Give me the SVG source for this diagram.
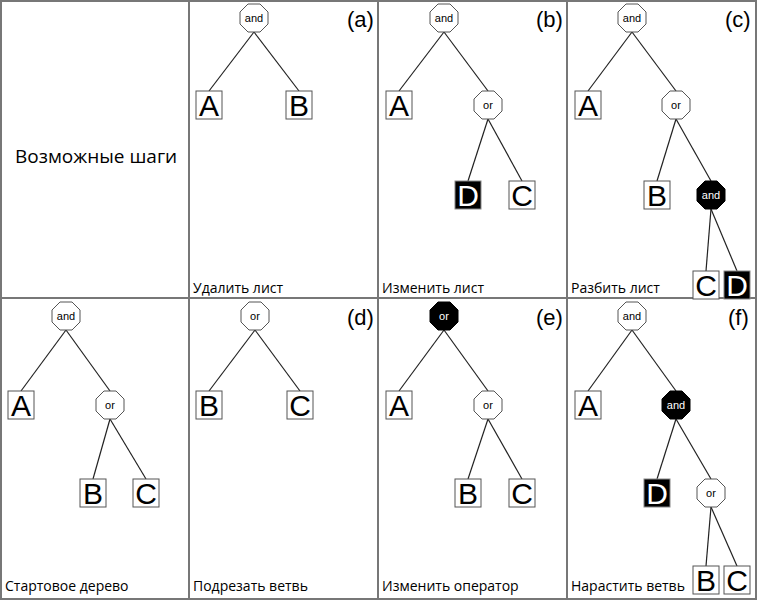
<svg xmlns="http://www.w3.org/2000/svg" xmlns:xlink="http://www.w3.org/1999/xlink" width="757" height="600" viewBox="0 0 757 600">
<style>
.grid{fill:none;stroke:#777;stroke-width:2}
.e{stroke:#222;stroke-width:1.2}
.oct{fill:#fff;stroke:#555;stroke-width:1}
.octb{fill:#000;stroke:#000;stroke-width:1}
.ot{font-family:"Liberation Sans",sans-serif;font-size:11px;text-anchor:middle}
.leaf{fill:#fff;stroke:#555;stroke-width:1}
.leafb{fill:#000;stroke:#888;stroke-width:1}
.lt{font-family:"Liberation Sans",sans-serif;font-size:30px;text-anchor:middle}
.lab{font-family:"Open Sans","Liberation Sans",sans-serif;font-size:14px}
.tag{font-family:"Liberation Sans",sans-serif;font-size:22px}
</style>
<defs>
<polygon id="o" points="-6,-14 6,-14 14,-6 14,6 6,14 -6,14 -14,6 -14,-6"/>
</defs>
<rect width="757" height="600" fill="#fff"/>
<g id="grid">
<rect class="grid" x="1" y="1" width="755" height="598"/>
<line class="grid" x1="189" y1="0" x2="189" y2="600"/>
<line class="grid" x1="378" y1="0" x2="378" y2="600"/>
<line class="grid" x1="567" y1="0" x2="567" y2="600"/>
<line class="grid" x1="0" y1="298" x2="757" y2="298"/>
</g>
<g id="connectors">
<line class="e" x1="254" y1="32" x2="209" y2="91"/><line class="e" x1="254" y1="32" x2="299" y2="91"/>
<line class="e" x1="444" y1="32" x2="399" y2="91"/><line class="e" x1="444" y1="32" x2="488" y2="91"/>
<line class="e" x1="488" y1="119" x2="468" y2="181"/><line class="e" x1="488" y1="119" x2="522" y2="181"/>
<line class="e" x1="632" y1="32" x2="588" y2="91"/><line class="e" x1="632" y1="32" x2="676" y2="91"/>
<line class="e" x1="676" y1="119" x2="657" y2="181"/><line class="e" x1="676" y1="119" x2="711" y2="181"/>
<line class="e" x1="711" y1="209" x2="706" y2="271"/><line class="e" x1="711" y1="209" x2="737" y2="271"/>
<line class="e" x1="66" y1="330" x2="21" y2="391"/><line class="e" x1="66" y1="330" x2="110" y2="391"/>
<line class="e" x1="110" y1="419" x2="93" y2="479"/><line class="e" x1="110" y1="419" x2="146" y2="479"/>
<line class="e" x1="255" y1="330" x2="209" y2="391"/><line class="e" x1="255" y1="330" x2="300" y2="391"/>
<line class="e" x1="444" y1="330" x2="399" y2="391"/><line class="e" x1="444" y1="330" x2="488" y2="391"/>
<line class="e" x1="488" y1="419" x2="468" y2="479"/><line class="e" x1="488" y1="419" x2="522" y2="479"/>
<line class="e" x1="632" y1="330" x2="588" y2="391"/><line class="e" x1="632" y1="330" x2="676" y2="391"/>
<line class="e" x1="676" y1="419" x2="657" y2="479"/><line class="e" x1="676" y1="419" x2="711" y2="479"/>
<line class="e" x1="711" y1="507" x2="706" y2="566"/><line class="e" x1="711" y1="507" x2="737" y2="566"/>
</g>
<text x="15" y="163" font-family="Open Sans, Liberation Sans, sans-serif" font-size="19">Возможные шаги</text>
<g id="labels">
<text class="tag" x="347" y="27">(a)</text><text class="tag" x="536" y="27">(b)</text><text class="tag" x="725" y="27">(c)</text>
<text class="tag" x="347" y="325">(d)</text><text class="tag" x="536" y="325">(e)</text><text class="tag" x="728" y="325">(f)</text>
<text class="lab" x="193" y="293">Удалить лист</text>
<text class="lab" x="382" y="293">Изменить лист</text>
<text class="lab" x="571" y="293">Разбить лист</text>
<text class="lab" x="5" y="591">Стартовое дерево</text>
<text class="lab" x="193" y="591">Подрезать ветвь</text>
<text class="lab" x="382" y="591">Изменить оператор</text>
<text class="lab" x="571" y="591">Нарастить ветвь</text>
</g>
<g id="a-root"><use href="#o" class="oct" x="254" y="18"/><text class="ot" x="254" y="22">and</text></g>
<g id="a-A"><rect class="leaf" x="196" y="91" width="26" height="28"/><text class="lt" x="209" y="116">A</text></g>
<g id="a-B"><rect class="leaf" x="286" y="91" width="26" height="28"/><text class="lt" x="299" y="116">B</text></g>
<g id="b-root"><use href="#o" class="oct" x="444" y="18"/><text class="ot" x="444" y="22">and</text></g>
<g id="b-A"><rect class="leaf" x="386" y="91" width="26" height="28"/><text class="lt" x="399" y="116">A</text></g>
<g id="b-or"><use href="#o" class="oct" x="488" y="105"/><text class="ot" x="488" y="109">or</text></g>
<g id="b-D"><rect class="leafb" x="455" y="181" width="26" height="28"/><text class="lt" x="468" y="206" fill="#fff">D</text></g>
<g id="b-C"><rect class="leaf" x="509" y="181" width="26" height="28"/><text class="lt" x="522" y="206">C</text></g>
<g id="c-root"><use href="#o" class="oct" x="632" y="18"/><text class="ot" x="632" y="22">and</text></g>
<g id="c-A"><rect class="leaf" x="575" y="91" width="26" height="28"/><text class="lt" x="588" y="116">A</text></g>
<g id="c-or"><use href="#o" class="oct" x="676" y="105"/><text class="ot" x="676" y="109">or</text></g>
<g id="c-B"><rect class="leaf" x="644" y="181" width="26" height="28"/><text class="lt" x="657" y="206">B</text></g>
<g id="c-and"><use href="#o" class="octb" x="711" y="195"/><text class="ot" x="711" y="199" fill="#fff">and</text></g>
<g id="c-C"><rect class="leaf" x="693" y="271" width="26" height="28"/><text class="lt" x="706" y="296">C</text></g>
<g id="c-D"><rect class="leafb" x="724" y="271" width="26" height="28"/><text class="lt" x="737" y="296" fill="#fff">D</text></g>
<g id="s-root"><use href="#o" class="oct" x="66" y="316"/><text class="ot" x="66" y="320">and</text></g>
<g id="s-A"><rect class="leaf" x="8" y="391" width="26" height="28"/><text class="lt" x="21" y="416">A</text></g>
<g id="s-or"><use href="#o" class="oct" x="110" y="405"/><text class="ot" x="110" y="409">or</text></g>
<g id="s-B"><rect class="leaf" x="80" y="479" width="26" height="28"/><text class="lt" x="93" y="504">B</text></g>
<g id="s-C"><rect class="leaf" x="133" y="479" width="26" height="28"/><text class="lt" x="146" y="504">C</text></g>
<g id="d-root"><use href="#o" class="oct" x="255" y="316"/><text class="ot" x="255" y="320">or</text></g>
<g id="d-B"><rect class="leaf" x="196" y="391" width="26" height="28"/><text class="lt" x="209" y="416">B</text></g>
<g id="d-C"><rect class="leaf" x="287" y="391" width="26" height="28"/><text class="lt" x="300" y="416">C</text></g>
<g id="e-root"><use href="#o" class="octb" x="444" y="316"/><text class="ot" x="444" y="320" fill="#fff">or</text></g>
<g id="e-A"><rect class="leaf" x="386" y="391" width="26" height="28"/><text class="lt" x="399" y="416">A</text></g>
<g id="e-or"><use href="#o" class="oct" x="488" y="405"/><text class="ot" x="488" y="409">or</text></g>
<g id="e-B"><rect class="leaf" x="455" y="479" width="26" height="28"/><text class="lt" x="468" y="504">B</text></g>
<g id="e-C"><rect class="leaf" x="509" y="479" width="26" height="28"/><text class="lt" x="522" y="504">C</text></g>
<g id="f-root"><use href="#o" class="oct" x="632" y="316"/><text class="ot" x="632" y="320">and</text></g>
<g id="f-A"><rect class="leaf" x="575" y="391" width="26" height="28"/><text class="lt" x="588" y="416">A</text></g>
<g id="f-and"><use href="#o" class="octb" x="676" y="405"/><text class="ot" x="676" y="409" fill="#fff">and</text></g>
<g id="f-D"><rect class="leafb" x="644" y="479" width="26" height="28"/><text class="lt" x="657" y="504" fill="#fff">D</text></g>
<g id="f-or"><use href="#o" class="oct" x="711" y="493"/><text class="ot" x="711" y="497">or</text></g>
<g id="f-B"><rect class="leaf" x="693" y="566" width="26" height="28"/><text class="lt" x="706" y="591">B</text></g>
<g id="f-C"><rect class="leaf" x="724" y="566" width="26" height="28"/><text class="lt" x="737" y="591">C</text></g>
</svg>
